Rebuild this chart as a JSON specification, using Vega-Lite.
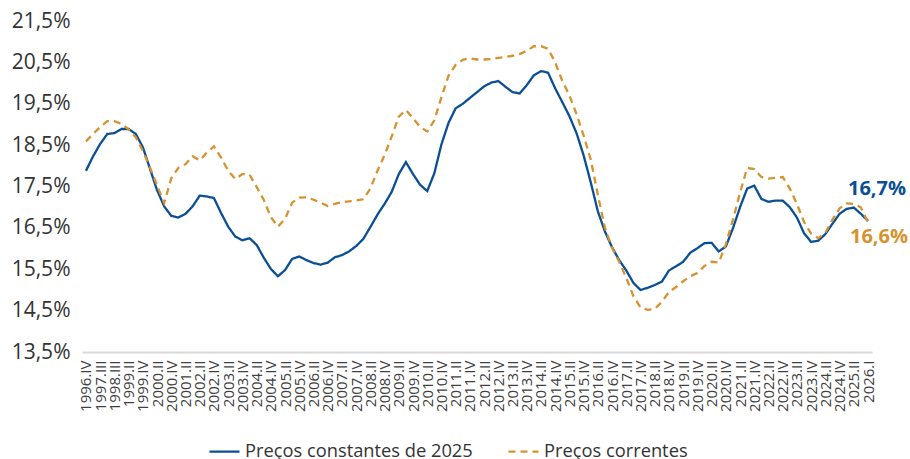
{
  "$schema": "https://vega.github.io/schema/vega-lite/v6.json",
  "width": 790,
  "height": 331,
  "autosize": {"type": "none"},
  "padding": {"left": 82, "top": 21, "right": 38, "bottom": 107},
  "background": "white",
  "config": {
    "locale": {"number": {"decimal": ",", "thousands": ".", "grouping": [3], "currency": ["", "%"]}},
    "view": {"stroke": null},
    "font": "Open Sans"
  },
  "data": {"values": [
    {"t":"1996.IV","c":17.88,"p":18.59},
    {"t":"1997.I","c":18.23,"p":18.77},
    {"t":"1997.III","c":18.53,"p":18.94},
    {"t":"1998.I","c":18.77,"p":19.08},
    {"t":"1998.III","c":18.79,"p":19.08},
    {"t":"1999.I","c":18.89,"p":19.01},
    {"t":"1999.II","c":18.89,"p":18.88},
    {"t":"1999.III","c":18.77,"p":18.69},
    {"t":"1999.IV","c":18.45,"p":18.36},
    {"t":"2000.I","c":17.93,"p":17.96},
    {"t":"2000.II","c":17.41,"p":17.53},
    {"t":"2000.III","c":17.02,"p":17.10},
    {"t":"2000.IV","c":16.79,"p":17.70},
    {"t":"2001.I","c":16.75,"p":17.95},
    {"t":"2001.II","c":16.84,"p":18.04},
    {"t":"2001.IV","c":17.02,"p":18.23},
    {"t":"2002.II","c":17.28,"p":18.13},
    {"t":"2002.III","c":17.26,"p":18.32},
    {"t":"2002.IV","c":17.22,"p":18.47},
    {"t":"2003.I","c":16.86,"p":18.20},
    {"t":"2003.II","c":16.53,"p":17.88},
    {"t":"2003.III","c":16.29,"p":17.68},
    {"t":"2003.IV","c":16.20,"p":17.80},
    {"t":"2004.I","c":16.25,"p":17.79},
    {"t":"2004.II","c":16.09,"p":17.49},
    {"t":"2004.III","c":15.78,"p":17.18},
    {"t":"2004.IV","c":15.51,"p":16.76},
    {"t":"2005.I","c":15.33,"p":16.53},
    {"t":"2005.II","c":15.48,"p":16.72},
    {"t":"2005.III","c":15.75,"p":17.11},
    {"t":"2005.IV","c":15.81,"p":17.23},
    {"t":"2006.I","c":15.72,"p":17.24},
    {"t":"2006.II","c":15.65,"p":17.18},
    {"t":"2006.III","c":15.61,"p":17.11},
    {"t":"2006.IV","c":15.66,"p":17.03},
    {"t":"2007.I","c":15.79,"p":17.08},
    {"t":"2007.II","c":15.84,"p":17.12},
    {"t":"2007.III","c":15.93,"p":17.14},
    {"t":"2007.IV","c":16.06,"p":17.16},
    {"t":"2008.I","c":16.23,"p":17.19},
    {"t":"2008.II","c":16.52,"p":17.45},
    {"t":"2008.III","c":16.82,"p":17.88},
    {"t":"2008.IV","c":17.08,"p":18.26},
    {"t":"2009.I","c":17.37,"p":18.71},
    {"t":"2009.II","c":17.80,"p":19.19},
    {"t":"2009.III","c":18.09,"p":19.35},
    {"t":"2009.IV","c":17.80,"p":19.15},
    {"t":"2010.I","c":17.54,"p":18.94},
    {"t":"2010.II","c":17.39,"p":18.83},
    {"t":"2010.III","c":17.82,"p":19.10},
    {"t":"2010.IV","c":18.52,"p":19.66},
    {"t":"2011.I","c":19.04,"p":20.18},
    {"t":"2011.II","c":19.39,"p":20.44},
    {"t":"2011.III","c":19.50,"p":20.56},
    {"t":"2011.IV","c":19.64,"p":20.60},
    {"t":"2012.I","c":19.78,"p":20.57},
    {"t":"2012.II","c":19.92,"p":20.57},
    {"t":"2012.III","c":20.01,"p":20.58},
    {"t":"2012.IV","c":20.05,"p":20.61},
    {"t":"2013.I","c":19.91,"p":20.63},
    {"t":"2013.II","c":19.78,"p":20.66},
    {"t":"2013.III","c":19.75,"p":20.70},
    {"t":"2013.IV","c":19.95,"p":20.78},
    {"t":"2014.I","c":20.19,"p":20.89},
    {"t":"2014.II","c":20.29,"p":20.89},
    {"t":"2014.III","c":20.25,"p":20.83},
    {"t":"2014.IV","c":19.87,"p":20.50},
    {"t":"2015.I","c":19.54,"p":20.05},
    {"t":"2015.II","c":19.20,"p":19.70},
    {"t":"2015.III","c":18.79,"p":19.25},
    {"t":"2015.IV","c":18.25,"p":18.73},
    {"t":"2016.I","c":17.60,"p":18.15},
    {"t":"2016.II","c":16.90,"p":17.30},
    {"t":"2016.III","c":16.41,"p":16.50},
    {"t":"2016.IV","c":16.03,"p":16.02},
    {"t":"2017.I","c":15.72,"p":15.68},
    {"t":"2017.II","c":15.47,"p":15.29},
    {"t":"2017.III","c":15.17,"p":14.85},
    {"t":"2017.IV","c":15.00,"p":14.58},
    {"t":"2018.I","c":15.05,"p":14.52},
    {"t":"2018.II","c":15.12,"p":14.54},
    {"t":"2018.III","c":15.20,"p":14.71},
    {"t":"2018.IV","c":15.47,"p":14.95},
    {"t":"2019.I","c":15.57,"p":15.07},
    {"t":"2019.II","c":15.68,"p":15.21},
    {"t":"2019.III","c":15.90,"p":15.33},
    {"t":"2019.IV","c":16.01,"p":15.41},
    {"t":"2020.I","c":16.13,"p":15.58},
    {"t":"2020.II","c":16.14,"p":15.68},
    {"t":"2020.III","c":15.93,"p":15.66},
    {"t":"2020.IV","c":16.05,"p":16.10},
    {"t":"2021.I","c":16.49,"p":16.70},
    {"t":"2021.II","c":17.00,"p":17.35},
    {"t":"2021.III","c":17.45,"p":17.95},
    {"t":"2021.IV","c":17.52,"p":17.92},
    {"t":"2022.I","c":17.20,"p":17.73},
    {"t":"2022.II","c":17.13,"p":17.69},
    {"t":"2022.III","c":17.16,"p":17.71},
    {"t":"2022.IV","c":17.16,"p":17.73},
    {"t":"2023.I","c":17.00,"p":17.45},
    {"t":"2023.II","c":16.75,"p":17.08},
    {"t":"2023.III","c":16.37,"p":16.64},
    {"t":"2023.IV","c":16.16,"p":16.36},
    {"t":"2024.I","c":16.19,"p":16.25},
    {"t":"2024.II","c":16.35,"p":16.38},
    {"t":"2024.III","c":16.60,"p":16.70},
    {"t":"2024.IV","c":16.84,"p":16.97},
    {"t":"2025.I","c":16.96,"p":17.09},
    {"t":"2025.II","c":16.99,"p":17.08},
    {"t":"2025.III","c":16.84,"p":16.99},
    {"t":"2026.I","c":16.67,"p":16.63}
  ]},
  "transform": [{"fold": ["c", "p"], "as": ["k", "v"]}],
  "encoding": {
    "x": {
      "field": "t", "type": "ordinal", "sort": null,
      "scale": {"type": "point", "padding": 0.56},
      "axis": {
        "title": null, "labelAngle": -90, "labelFontSize": 15, "labelColor": "#404040",
        "labelFont": "Open Sans", "labelPadding": 8, "ticks": false, "grid": false,
        "domainColor": "#d9d9d9", "domainWidth": 2, "labelOverlap": false, "labelBound": false,
        "values": ["1996.IV","1997.III","1998.III","1999.II","1999.IV","2000.II","2000.IV","2001.II","2002.II","2002.IV","2003.II","2003.IV","2004.II","2004.IV","2005.II","2005.IV","2006.II","2006.IV","2007.II","2007.IV","2008.II","2008.IV","2009.II","2009.IV","2010.II","2010.IV","2011.II","2011.IV","2012.II","2012.IV","2013.II","2013.IV","2014.II","2014.IV","2015.II","2015.IV","2016.II","2016.IV","2017.II","2017.IV","2018.II","2018.IV","2019.II","2019.IV","2020.II","2020.IV","2021.II","2021.IV","2022.II","2022.IV","2023.II","2023.IV","2024.II","2024.IV","2025.II","2026.I"]
      }
    },
    "y": {
      "field": "v", "type": "quantitative",
      "scale": {"domain": [13.5, 21.5], "nice": false, "zero": false},
      "axis": {
        "title": null, "values": [13.5, 14.5, 15.5, 16.5, 17.5, 18.5, 19.5, 20.5, 21.5],
        "format": "$.1f", "grid": false, "domain": false, "ticks": false,
        "labelFontSize": 21, "labelColor": "#333333", "labelFont": "Open Sans", "labelPadding": 12
      }
    }
  },
  "layer": [
    {
      "mark": {"type": "line", "strokeWidth": 2.3},
      "encoding": {
        "color": {
          "field": "k", "type": "nominal",
          "scale": {"domain": ["c", "p"], "range": ["#0a4f96", "#d6922f"]},
          "legend": {"title": null, "orient": "none", "legendX": 126, "legendY": 414, "direction": "horizontal",
            "labelExpr": "datum.label == 'c' ? 'Preços constantes de 2025' : 'Preços correntes'",
            "labelFontSize": 18.3, "labelColor": "#333333", "labelFont": "Open Sans", "labelLimit": 0, "symbolType": "stroke",
            "symbolSize": 900, "symbolStrokeWidth": 2.3, "labelOffset": 4, "columnPadding": 30, "padding": 0}
        },
        "strokeDash": {
          "field": "k", "type": "nominal",
          "scale": {"domain": ["c", "p"], "range": [[1, 0], [7, 5]]},
          "legend": {"title": null, "orient": "none", "legendX": 126, "legendY": 414, "direction": "horizontal",
            "labelExpr": "datum.label == 'c' ? 'Preços constantes de 2025' : 'Preços correntes'",
            "labelFontSize": 18.3, "labelColor": "#333333", "labelFont": "Open Sans", "labelLimit": 0, "symbolType": "stroke",
            "symbolSize": 900, "symbolStrokeWidth": 2.3, "labelOffset": 4, "columnPadding": 30, "padding": 0}
        }
      }
    },
    {
      "transform": [{"filter": "datum.t == '2026.I' && datum.k == 'c'"}],
      "mark": {"type": "text", "dx": 9, "dy": -32, "fontSize": 20, "fontWeight": "bold", "font": "Open Sans", "color": "#0a4f96", "align": "center", "baseline": "middle"},
      "encoding": {"text": {"field": "v", "type": "quantitative", "format": "$.1f"}}
    },
    {
      "transform": [{"filter": "datum.t == '2026.I' && datum.k == 'p'"}],
      "mark": {"type": "text", "dx": 11, "dy": 15, "fontSize": 20, "fontWeight": "bold", "font": "Open Sans", "color": "#d6922f", "align": "center", "baseline": "middle"},
      "encoding": {"text": {"field": "v", "type": "quantitative", "format": "$.1f"}}
    }
  ]
}
